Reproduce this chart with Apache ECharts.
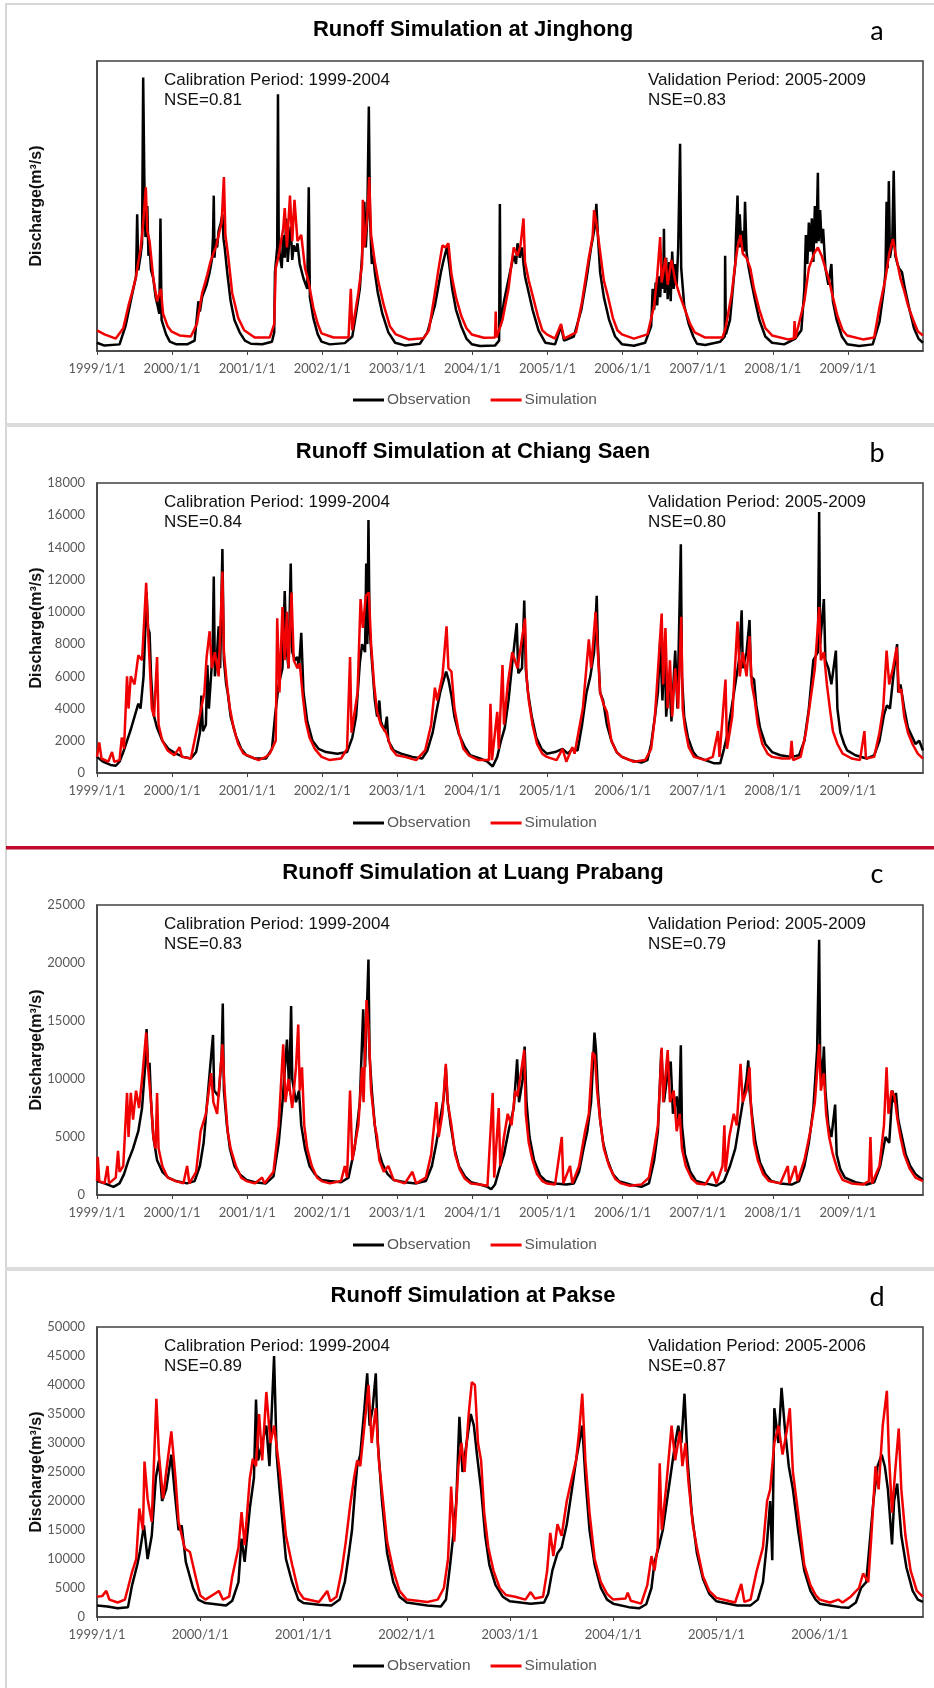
<!DOCTYPE html>
<html><head><meta charset="utf-8">
<script src="https://cdn.jsdelivr.net/npm/echarts/dist/echarts.min.js"></script>
<style>html,body{margin:0;padding:0;background:#fff}#c{width:934px;height:1688px}</style>
</head><body><div id="c"></div>
<script>
// ---------------- DATA ----------------
const stations = ['Jinghong', 'Chiang Saen', 'Luang Prabang', 'Pakse'];
const panelLetters = ['a', 'b', 'c', 'd'];
const calPeriods = ['1999-2004', '1999-2004', '1999-2004', '1999-2004'];
const valPeriods = ['2005-2009', '2005-2009', '2005-2009', '2005-2006'];
const nseCal = ['0.81', '0.84', '0.83', '0.89'];
const nseVal = ['0.83', '0.80', '0.79', '0.87'];
const xStart = [1999, 1999, 1999, 1999];
const xEnd = [2010, 2010, 2010, 2007];
const yMax = [14000, 18000, 25000, 50000];
const yStep = [2000, 2000, 5000, 5000];
const showYLabels = [false, true, true, true];
const seriesNames = ['Observation', 'Simulation'];

// x values are decimal years, y values discharge (m3/s)
const obsJinghong = [
[1999.0,400],[1999.1,260],[1999.3,320],[1999.38,1200],[1999.46,2600],[1999.52,3600],[1999.535,6600],[1999.55,3900],[1999.58,4600],[1999.6,5200],[1999.615,13200],[1999.63,8400],[1999.645,5500],[1999.66,6200],[1999.67,7000],[1999.685,4600],[1999.7,5000],[1999.72,3900],[1999.75,3500],[1999.78,2600],[1999.8,2300],[1999.83,1800],[1999.845,6400],[1999.86,1500],[1999.92,800],[1999.97,450],
[2000.05,330],[2000.2,320],[2000.3,500],[2000.35,2400],[2000.37,1900],[2000.4,2600],[2000.42,2800],[2000.46,3200],[2000.5,3800],[2000.53,4400],[2000.545,5500],[2000.555,7500],[2000.565,4500],[2000.58,5400],[2000.6,5000],[2000.62,5800],[2000.65,6200],[2000.67,6600],[2000.685,5400],[2000.7,5000],[2000.74,3600],[2000.78,2400],[2000.83,1500],[2000.9,900],[2000.97,500],
[2001.05,350],[2001.2,330],[2001.33,450],[2001.36,900],[2001.37,3800],[2001.4,5000],[2001.41,12400],[2001.42,5200],[2001.44,4500],[2001.46,4000],[2001.48,5600],[2001.5,4500],[2001.52,6400],[2001.54,4300],[2001.56,5300],[2001.58,6000],[2001.6,4400],[2001.62,5100],[2001.65,4800],[2001.67,5200],[2001.7,4200],[2001.75,3500],[2001.8,3000],[2001.82,7900],[2001.835,2600],[2001.88,1600],[2001.94,800],[2001.99,450],
[2002.1,320],[2002.3,380],[2002.4,700],[2002.45,1800],[2002.5,3000],[2002.53,4600],[2002.54,5600],[2002.56,7200],[2002.58,5000],[2002.6,6500],[2002.62,11800],[2002.635,6600],[2002.65,5000],[2002.66,4200],[2002.68,4600],[2002.7,3800],[2002.74,2800],[2002.8,1800],[2002.88,900],[2002.97,400],
[2003.1,270],[2003.3,350],[2003.4,900],[2003.5,2200],[2003.58,3800],[2003.61,4300],[2003.63,4600],[2003.66,5000],[2003.69,4200],[2003.73,3000],[2003.78,2000],[2003.85,1200],[2003.92,600],[2003.99,330],
[2004.1,240],[2004.3,260],[2004.355,500],[2004.365,7100],[2004.375,1200],[2004.42,2400],[2004.5,3800],[2004.53,4300],[2004.55,4600],[2004.58,4200],[2004.6,5200],[2004.63,4500],[2004.66,5000],[2004.68,4200],[2004.7,3600],[2004.75,2800],[2004.8,2000],[2004.88,1000],[2004.97,400],
[2005.1,320],[2005.18,1200],[2005.22,500],[2005.35,700],[2005.45,2000],[2005.52,3500],[2005.58,5000],[2005.63,6000],[2005.65,7100],[2005.67,5600],[2005.7,3800],[2005.75,2600],[2005.82,1500],[2005.9,700],[2005.99,330],
[2006.15,250],[2006.3,400],[2006.38,1200],[2006.4,3000],[2006.42,2000],[2006.44,3300],[2006.46,2200],[2006.48,3600],[2006.5,2600],[2006.52,4200],[2006.54,3000],[2006.55,5900],[2006.56,2800],[2006.58,4500],[2006.6,2500],[2006.62,4300],[2006.64,2400],[2006.66,4800],[2006.68,3000],[2006.7,4200],[2006.72,3200],[2006.74,5000],[2006.765,10000],[2006.78,4000],[2006.82,2200],[2006.88,1300],[2006.94,700],[2006.99,350],
[2007.1,290],[2007.3,450],[2007.36,700],[2007.365,4600],[2007.375,800],[2007.43,1500],[2007.48,3500],[2007.5,4200],[2007.51,5600],[2007.53,7500],[2007.545,5000],[2007.56,6600],[2007.58,5000],[2007.6,5800],[2007.615,4800],[2007.63,7200],[2007.65,4800],[2007.67,4200],[2007.7,3600],[2007.76,2500],[2007.82,1500],[2007.9,700],[2007.99,400],
[2008.15,320],[2008.3,600],[2008.38,1000],[2008.42,3000],[2008.44,5600],[2008.46,4200],[2008.48,6200],[2008.5,4800],[2008.52,6400],[2008.54,4300],[2008.56,7000],[2008.58,5200],[2008.6,8600],[2008.61,5300],[2008.63,6800],[2008.65,5200],[2008.67,5900],[2008.7,4000],[2008.74,3200],[2008.78,4200],[2008.8,2400],[2008.85,1500],[2008.92,700],[2008.99,330],
[2009.15,240],[2009.33,320],[2009.42,1400],[2009.48,3000],[2009.5,3800],[2009.515,7200],[2009.53,4000],[2009.545,8200],[2009.56,4500],[2009.59,5200],[2009.61,8700],[2009.63,4600],[2009.66,4200],[2009.68,4000],[2009.72,3800],[2009.76,3000],[2009.82,2000],[2009.88,1100],[2009.94,600],[2009.999,400]
];
const simJinghong = [
[1999.0,1000],[1999.1,800],[1999.25,600],[1999.35,1100],[1999.42,2200],[1999.48,3000],[1999.52,3600],[1999.55,4300],[1999.58,4900],[1999.6,5600],[1999.62,6400],[1999.65,7900],[1999.67,5800],[1999.7,5300],[1999.75,3500],[1999.8,2400],[1999.85,3000],[1999.88,1800],[1999.94,1200],[1999.99,950],
[2000.1,750],[2000.25,700],[2000.33,1300],[2000.4,2800],[2000.44,3300],[2000.47,3700],[2000.51,4300],[2000.55,4700],[2000.59,5100],[2000.62,5600],[2000.66,6200],[2000.69,8400],[2000.71,5600],[2000.75,4500],[2000.8,2800],[2000.88,1600],[2000.96,1000],
[2001.1,650],[2001.3,650],[2001.36,1300],[2001.38,4000],[2001.42,4600],[2001.45,5300],[2001.48,5900],[2001.5,6900],[2001.53,5000],[2001.57,7500],[2001.6,5300],[2001.63,7300],[2001.67,5300],[2001.72,5600],[2001.77,4000],[2001.82,3300],[2001.88,2100],[2001.94,1300],[2001.99,850],
[2002.15,650],[2002.35,650],[2002.38,3000],[2002.4,1000],[2002.48,2800],[2002.53,4200],[2002.54,7300],[2002.56,5000],[2002.6,6500],[2002.625,8400],[2002.65,5600],[2002.7,4300],[2002.75,3300],[2002.82,2200],[2002.9,1200],[2002.98,800],
[2003.15,560],[2003.35,620],[2003.42,1000],[2003.5,2800],[2003.55,4000],[2003.6,5100],[2003.64,5000],[2003.68,5200],[2003.72,3700],[2003.78,2600],[2003.85,1700],[2003.92,1100],[2003.99,800],
[2004.15,640],[2004.3,650],[2004.31,1900],[2004.32,650],[2004.4,1500],[2004.48,3000],[2004.52,4200],[2004.55,5000],[2004.6,4600],[2004.64,5100],[2004.68,6400],[2004.7,4300],[2004.75,3400],[2004.8,2700],[2004.87,1700],[2004.93,1000],[2004.99,800],
[2005.1,600],[2005.18,1300],[2005.22,600],[2005.38,900],[2005.46,2400],[2005.55,4500],[2005.6,5500],[2005.62,6800],[2005.65,6200],[2005.7,4800],[2005.75,3400],[2005.8,2700],[2005.87,1600],[2005.93,1000],[2005.99,800],
[2006.15,600],[2006.33,800],[2006.42,2200],[2006.46,3600],[2006.5,5500],[2006.52,3300],[2006.55,4000],[2006.57,4500],[2006.6,3200],[2006.65,4400],[2006.7,3400],[2006.76,2700],[2006.83,2000],[2006.9,1300],[2006.96,900],
[2007.1,650],[2007.33,650],[2007.37,1100],[2007.45,2700],[2007.5,4200],[2007.53,5000],[2007.57,5600],[2007.6,4700],[2007.65,4500],[2007.7,4000],[2007.75,3000],[2007.82,2000],[2007.9,1100],[2007.99,750],
[2008.2,560],[2008.28,600],[2008.29,1450],[2008.3,600],[2008.42,2400],[2008.48,4000],[2008.55,4700],[2008.6,5000],[2008.65,4600],[2008.7,4000],[2008.75,3400],[2008.8,2600],[2008.86,1700],[2008.93,1000],[2008.99,750],
[2009.2,560],[2009.35,650],[2009.42,2100],[2009.5,3500],[2009.55,4700],[2009.6,5400],[2009.65,4400],[2009.7,3500],[2009.75,2900],[2009.8,2200],[2009.87,1500],[2009.93,950],[2009.999,750]
];
const obsChiangSaen = [
[1999.0,1000],[1999.08,700],[1999.18,500],[1999.25,450],[1999.3,700],[1999.35,1300],[1999.4,2000],[1999.45,2700],[1999.5,3500],[1999.55,4300],[1999.58,4000],[1999.62,6000],[1999.64,8500],[1999.66,11200],[1999.68,9000],[1999.7,8700],[1999.72,6000],[1999.75,3700],[1999.8,2800],[1999.87,2000],[1999.95,1500],
[2000.05,1200],[2000.15,1000],[2000.25,900],[2000.32,1300],[2000.37,2500],[2000.39,4800],[2000.41,2600],[2000.45,3000],[2000.47,6700],[2000.49,4000],[2000.54,7500],[2000.555,12200],[2000.57,6000],[2000.6,7500],[2000.62,9100],[2000.64,6500],[2000.67,13900],[2000.69,7000],[2000.72,5500],[2000.74,5000],[2000.78,3500],[2000.85,2300],[2000.92,1500],[2000.99,1100],
[2001.1,900],[2001.25,900],[2001.33,1500],[2001.37,3500],[2001.42,5500],[2001.47,6500],[2001.5,11300],[2001.52,8000],[2001.55,6500],[2001.58,13000],[2001.6,7500],[2001.64,7000],[2001.67,7200],[2001.69,6500],[2001.72,8700],[2001.75,5000],[2001.8,3200],[2001.87,2000],[2001.95,1500],
[2002.05,1300],[2002.2,1200],[2002.33,1300],[2002.4,2200],[2002.45,3500],[2002.5,6800],[2002.53,8000],[2002.57,7500],[2002.585,13000],[2002.6,8000],[2002.615,15700],[2002.63,9000],[2002.66,7000],[2002.7,4500],[2002.73,3500],[2002.76,4500],[2002.78,3200],[2002.83,2600],[2002.86,3500],[2002.88,2000],[2002.95,1400],
[2003.05,1200],[2003.2,1000],[2003.33,900],[2003.4,1400],[2003.47,2500],[2003.52,3800],[2003.57,5000],[2003.6,5500],[2003.65,6300],[2003.68,5800],[2003.72,4800],[2003.76,3500],[2003.82,2400],[2003.9,1600],[2003.97,1100],
[2004.1,900],[2004.2,700],[2004.27,400],[2004.33,1000],[2004.38,2000],[2004.43,2800],[2004.48,4500],[2004.53,6800],[2004.59,9300],[2004.61,6200],[2004.66,6500],[2004.69,10700],[2004.71,6500],[2004.74,5000],[2004.79,3500],[2004.85,2200],[2004.92,1500],[2004.99,1200],
[2005.1,1300],[2005.2,1500],[2005.27,1200],[2005.33,1500],[2005.4,1400],[2005.46,3000],[2005.52,5000],[2005.57,6000],[2005.62,7500],[2005.655,11000],[2005.67,8000],[2005.7,5000],[2005.74,4500],[2005.79,3000],[2005.85,2000],[2005.92,1300],[2005.99,1000],
[2006.1,800],[2006.25,650],[2006.33,800],[2006.38,1800],[2006.43,3500],[2006.47,5000],[2006.5,8200],[2006.53,4500],[2006.56,8000],[2006.58,3500],[2006.62,6000],[2006.65,3200],[2006.7,7600],[2006.73,4000],[2006.775,14200],[2006.79,6000],[2006.82,3500],[2006.87,2200],[2006.94,1300],[2006.99,1000],
[2007.1,800],[2007.22,600],[2007.3,600],[2007.35,1500],[2007.4,2500],[2007.45,4000],[2007.5,5500],[2007.55,7000],[2007.585,10100],[2007.6,6500],[2007.65,7500],[2007.69,9500],[2007.71,6000],[2007.75,5800],[2007.78,4200],[2007.83,2800],[2007.9,1800],[2007.99,1300],
[2008.1,1100],[2008.25,1000],[2008.35,1100],[2008.42,2000],[2008.48,4000],[2008.54,7000],[2008.6,7500],[2008.617,16200],[2008.63,8000],[2008.68,10800],[2008.7,7000],[2008.74,6500],[2008.78,5500],[2008.84,7600],[2008.86,4000],[2008.9,2500],[2008.95,1800],[2008.99,1400],
[2009.1,1100],[2009.25,900],[2009.35,1100],[2009.42,2000],[2009.48,3600],[2009.52,4200],[2009.56,4000],[2009.6,5800],[2009.655,8000],[2009.67,5000],[2009.7,5500],[2009.75,4000],[2009.8,2800],[2009.86,2200],[2009.9,1800],[2009.95,2000],[2009.999,1400]
];
const simChiangSaen = [
[1999.0,1000],[1999.03,1900],[1999.06,900],[1999.15,700],[1999.2,1300],[1999.23,700],[1999.3,800],[1999.33,2200],[1999.36,1500],[1999.4,6000],[1999.42,4000],[1999.45,6000],[1999.5,5500],[1999.55,7300],[1999.6,7000],[1999.63,9600],[1999.655,11800],[1999.68,8800],[1999.71,6000],[1999.73,4000],[1999.76,3500],[1999.8,7200],[1999.82,3000],[1999.87,2000],[1999.94,1400],
[2000.03,1100],[2000.1,1600],[2000.13,1000],[2000.25,900],[2000.32,2500],[2000.37,3600],[2000.43,5000],[2000.46,7200],[2000.5,8800],[2000.53,6500],[2000.57,7500],[2000.62,6000],[2000.67,12500],[2000.69,7500],[2000.73,5500],[2000.77,4000],[2000.82,2800],[2000.88,1800],[2000.95,1200],
[2001.05,1000],[2001.15,800],[2001.25,1000],[2001.3,1200],[2001.38,2000],[2001.4,9600],[2001.43,5000],[2001.47,10300],[2001.5,7000],[2001.53,10000],[2001.55,6500],[2001.59,11200],[2001.62,7000],[2001.67,6500],[2001.7,6800],[2001.74,4800],[2001.78,3200],[2001.83,2200],[2001.9,1500],[2001.99,1000],
[2002.1,800],[2002.25,900],[2002.33,1500],[2002.37,7200],[2002.39,2500],[2002.47,5000],[2002.51,10800],[2002.54,9000],[2002.58,11000],[2002.62,11200],[2002.65,8000],[2002.69,5500],[2002.73,3800],[2002.78,3000],[2002.85,2500],[2002.92,1500],[2002.99,1100],
[2003.1,1000],[2003.25,800],[2003.37,1400],[2003.45,3000],[2003.5,5300],[2003.53,4500],[2003.6,6000],[2003.655,9100],[2003.68,6500],[2003.72,6300],[2003.76,4000],[2003.82,2500],[2003.88,1500],[2003.95,1100],
[2004.08,800],[2004.22,800],[2004.24,4300],[2004.26,800],[2004.33,3800],[2004.35,1500],[2004.4,6700],[2004.42,3000],[2004.47,5500],[2004.53,7500],[2004.6,6500],[2004.7,9600],[2004.72,6000],[2004.75,4500],[2004.8,3000],[2004.86,1800],[2004.93,1200],[2004.99,1000],
[2005.12,800],[2005.2,1500],[2005.25,700],[2005.33,1600],[2005.36,1200],[2005.47,4000],[2005.55,8300],[2005.58,6500],[2005.64,10000],[2005.67,7500],[2005.7,5000],[2005.75,4200],[2005.79,3800],[2005.85,2000],[2005.92,1300],[2005.99,1000],
[2006.15,700],[2006.3,800],[2006.38,1500],[2006.43,3500],[2006.52,9900],[2006.54,5500],[2006.57,9000],[2006.6,4000],[2006.63,7000],[2006.66,3500],[2006.7,6500],[2006.74,4000],[2006.78,9700],[2006.8,4000],[2006.83,2800],[2006.88,1600],[2006.95,1000],
[2007.1,800],[2007.2,1000],[2007.27,2600],[2007.29,1000],[2007.37,5800],[2007.39,1500],[2007.46,3500],[2007.53,9400],[2007.56,6000],[2007.6,7500],[2007.65,6000],[2007.69,8500],[2007.72,5500],[2007.76,4500],[2007.8,3000],[2007.86,1800],[2007.93,1200],[2007.99,1000],
[2008.12,900],[2008.23,900],[2008.25,2000],[2008.27,800],[2008.37,1000],[2008.44,2500],[2008.5,4500],[2008.56,6500],[2008.617,10300],[2008.64,7000],[2008.68,7500],[2008.72,5500],[2008.76,4000],[2008.8,2600],[2008.86,1800],[2008.93,1200],
[2009.05,900],[2009.16,800],[2009.22,2600],[2009.24,900],[2009.35,1000],[2009.42,2500],[2009.47,4000],[2009.515,7600],[2009.55,5500],[2009.6,6500],[2009.65,7800],[2009.68,5000],[2009.71,5200],[2009.75,3500],[2009.8,2500],[2009.86,1800],[2009.93,1200],[2009.999,900]
];
const obsLuangPrabang = [
[1999.0,1200],[1999.1,1000],[1999.22,700],[1999.3,1000],[1999.36,1800],[1999.42,3000],[1999.48,4000],[1999.55,5500],[1999.6,7500],[1999.64,11000],[1999.66,14300],[1999.68,11000],[1999.7,11400],[1999.72,8000],[1999.75,5000],[1999.8,3000],[1999.87,2000],[1999.95,1500],
[2000.05,1200],[2000.2,1000],[2000.3,1200],[2000.37,2500],[2000.42,4500],[2000.46,7500],[2000.5,10500],[2000.545,13800],[2000.56,9000],[2000.62,8500],[2000.66,12000],[2000.675,16500],[2000.69,9000],[2000.73,6000],[2000.77,4000],[2000.83,2500],[2000.9,1800],[2000.99,1300],
[2001.1,1100],[2001.25,1000],[2001.35,1600],[2001.42,4500],[2001.47,8000],[2001.53,13400],[2001.56,9000],[2001.585,16300],[2001.6,10000],[2001.65,8000],[2001.69,9000],[2001.72,6000],[2001.77,4000],[2001.83,2500],[2001.9,1800],[2001.99,1300],
[2002.1,1200],[2002.25,1100],[2002.35,1500],[2002.43,4000],[2002.5,8000],[2002.545,16000],[2002.57,11000],[2002.615,20300],[2002.63,12000],[2002.66,9000],[2002.7,6000],[2002.74,4000],[2002.8,2700],[2002.87,1800],[2002.95,1300],
[2003.1,1100],[2003.25,1000],[2003.38,1200],[2003.46,2500],[2003.52,4500],[2003.57,6500],[2003.62,8500],[2003.645,11000],[2003.67,8000],[2003.71,6000],[2003.76,4000],[2003.82,2500],[2003.9,1600],[2003.98,1100],
[2004.1,900],[2004.2,700],[2004.25,500],[2004.3,900],[2004.37,2500],[2004.42,3500],[2004.48,5500],[2004.55,7500],[2004.595,11700],[2004.62,8000],[2004.67,10000],[2004.695,12800],[2004.72,8000],[2004.76,5000],[2004.82,3000],[2004.9,1700],[2004.98,1200],
[2005.1,1000],[2005.25,900],[2005.35,1000],[2005.42,2000],[2005.48,4000],[2005.53,5500],[2005.58,8000],[2005.625,14000],[2005.645,12500],[2005.67,9000],[2005.7,6500],[2005.74,4500],[2005.8,3000],[2005.87,1800],[2005.95,1200],
[2006.1,900],[2006.25,700],[2006.35,1000],[2006.42,3000],[2006.47,5500],[2006.515,12500],[2006.55,8000],[2006.6,10500],[2006.64,11500],[2006.67,7000],[2006.72,8500],[2006.75,6000],[2006.775,12900],[2006.79,6000],[2006.83,3500],[2006.9,2000],[2006.98,1200],
[2007.1,1000],[2007.25,800],[2007.35,1200],[2007.43,2500],[2007.5,4000],[2007.55,6000],[2007.6,8000],[2007.65,10000],[2007.673,11600],[2007.69,9000],[2007.73,6500],[2007.77,4500],[2007.83,2800],[2007.9,1800],[2007.98,1200],
[2008.1,1000],[2008.25,900],[2008.35,1200],[2008.42,2500],[2008.48,4500],[2008.54,7500],[2008.59,12500],[2008.617,22000],[2008.63,12000],[2008.66,10000],[2008.68,12800],[2008.7,9000],[2008.74,6000],[2008.78,5000],[2008.83,7800],[2008.85,3500],[2008.9,2200],[2008.96,1500],
[2009.1,1100],[2009.25,900],[2009.35,1100],[2009.43,2500],[2009.5,5000],[2009.55,4500],[2009.594,9000],[2009.62,8000],[2009.64,8800],[2009.67,6500],[2009.72,5000],[2009.77,3500],[2009.83,2500],[2009.9,1800],[2009.999,1300]
];
const simLuangPrabang = [
[1999.0,1200],[1999.01,3300],[1999.03,1200],[1999.1,1000],[1999.14,2500],[1999.16,1000],[1999.25,1500],[1999.28,3800],[1999.3,2000],[1999.35,2500],[1999.4,8800],[1999.42,5000],[1999.45,8800],[1999.48,6500],[1999.52,9000],[1999.56,7500],[1999.6,10000],[1999.655,14000],[1999.68,11000],[1999.72,8000],[1999.75,5000],[1999.78,4000],[1999.8,8800],[1999.82,4000],[1999.87,2500],[1999.94,1500],
[2000.05,1200],[2000.15,1000],[2000.2,2500],[2000.23,1000],[2000.32,2000],[2000.38,5500],[2000.45,7000],[2000.52,10500],[2000.55,8000],[2000.6,7000],[2000.67,13000],[2000.7,9000],[2000.74,5500],[2000.78,4000],[2000.85,2500],[2000.92,1500],[2000.99,1200],
[2001.1,1000],[2001.2,1500],[2001.23,1000],[2001.35,2000],[2001.42,6000],[2001.48,13000],[2001.51,8000],[2001.55,10000],[2001.6,7500],[2001.65,11000],[2001.68,14700],[2001.7,9000],[2001.73,11000],[2001.76,6000],[2001.8,4000],[2001.86,2500],[2001.93,1500],[2001.99,1200],
[2002.1,1000],[2002.25,1200],[2002.3,2500],[2002.33,1500],[2002.37,9000],[2002.4,3000],[2002.48,6000],[2002.53,11000],[2002.55,8000],[2002.59,16800],[2002.62,14000],[2002.65,9000],[2002.7,6000],[2002.73,5000],[2002.76,3000],[2002.82,2000],[2002.88,2500],[2002.95,1300],
[2003.1,1000],[2003.2,2000],[2003.25,1000],[2003.38,1500],[2003.45,3500],[2003.52,8000],[2003.55,5000],[2003.6,7000],[2003.645,11300],[2003.67,8000],[2003.72,6000],[2003.77,3500],[2003.83,2200],[2003.9,1400],[2003.98,1000],
[2004.1,900],[2004.2,800],[2004.27,8800],[2004.29,1500],[2004.35,7500],[2004.37,2500],[2004.42,5000],[2004.47,7000],[2004.52,6000],[2004.57,9000],[2004.6,8500],[2004.69,12500],[2004.71,7000],[2004.75,4500],[2004.8,3000],[2004.86,1800],[2004.93,1200],[2004.99,1000],
[2005.1,900],[2005.19,5000],[2005.21,1000],[2005.3,2500],[2005.33,1000],[2005.42,2500],[2005.5,5500],[2005.55,7000],[2005.6,12300],[2005.63,12000],[2005.66,9000],[2005.7,6500],[2005.75,4000],[2005.82,2500],[2005.9,1400],[2005.98,1000],
[2006.1,800],[2006.25,900],[2006.35,1500],[2006.42,4000],[2006.47,6000],[2006.52,12700],[2006.54,8000],[2006.6,12500],[2006.63,8000],[2006.68,9000],[2006.72,5500],[2006.76,7000],[2006.79,4000],[2006.84,2500],[2006.92,1400],[2006.99,1000],
[2007.1,900],[2007.2,2000],[2007.25,1000],[2007.33,2500],[2007.355,6000],[2007.37,2000],[2007.42,5000],[2007.48,7000],[2007.52,6000],[2007.57,11300],[2007.6,8000],[2007.65,9000],[2007.69,11000],[2007.71,7500],[2007.75,4500],[2007.8,3000],[2007.87,1800],[2007.95,1200],
[2008.1,1000],[2008.2,2500],[2008.22,1000],[2008.3,2500],[2008.33,1200],[2008.42,3000],[2008.5,5500],[2008.56,8000],[2008.617,13000],[2008.64,9000],[2008.68,10500],[2008.71,7000],[2008.75,5000],[2008.8,3500],[2008.86,2200],[2008.93,1300],
[2009.05,1000],[2009.2,900],[2009.28,1200],[2009.3,5000],[2009.32,1000],[2009.42,2500],[2009.48,6000],[2009.515,11000],[2009.54,7000],[2009.58,9000],[2009.62,8500],[2009.66,6500],[2009.7,5000],[2009.75,3500],[2009.82,2300],[2009.9,1500],[2009.999,1200]
];
const obsPakse = [
[1999.0,2000],[1999.1,1800],[1999.2,1500],[1999.3,1700],[1999.34,5500],[1999.39,9000],[1999.415,11200],[1999.455,15800],[1999.49,10000],[1999.53,14000],[1999.57,24000],[1999.6,27000],[1999.63,20000],[1999.67,22000],[1999.72,28000],[1999.75,22000],[1999.79,15000],[1999.82,15800],[1999.86,9500],[1999.93,5000],[1999.98,3000],
[2000.05,2400],[2000.15,2200],[2000.25,2000],[2000.31,2800],[2000.37,6000],[2000.4,13500],[2000.43,9500],[2000.48,18700],[2000.52,24000],[2000.54,37500],[2000.56,27000],[2000.6,30000],[2000.64,33000],[2000.67,26000],[2000.715,45000],[2000.74,28000],[2000.77,21500],[2000.83,10000],[2000.89,6000],[2000.95,3000],
[2001.0,2400],[2001.15,2100],[2001.27,2000],[2001.35,3000],[2001.4,6000],[2001.44,11000],[2001.47,15000],[2001.5,22000],[2001.52,26000],[2001.55,28000],[2001.59,36000],[2001.617,42000],[2001.64,33000],[2001.67,36000],[2001.7,42000],[2001.72,30000],[2001.76,20000],[2001.81,11000],[2001.87,6000],[2001.93,3500],
[2002.0,2500],[2002.2,2000],[2002.33,1800],[2002.38,3000],[2002.42,9000],[2002.45,14000],[2002.48,20000],[2002.51,34500],[2002.54,25000],[2002.58,30000],[2002.62,35000],[2002.65,33000],[2002.68,28000],[2002.72,22000],[2002.76,14000],[2002.8,9000],[2002.86,5500],[2002.93,3500],
[2003.0,2700],[2003.2,2300],[2003.33,2500],[2003.37,4000],[2003.41,8000],[2003.46,11000],[2003.5,12000],[2003.55,16000],[2003.6,22000],[2003.64,27000],[2003.68,31000],[2003.7,33000],[2003.73,24000],[2003.77,15000],[2003.82,9000],[2003.88,5000],[2003.94,3000],
[2004.0,2300],[2004.15,1700],[2004.25,1500],[2004.32,2200],[2004.37,5000],[2004.4,9500],[2004.44,12000],[2004.48,15000],[2004.52,20000],[2004.56,25000],[2004.6,30000],[2004.63,33000],[2004.66,30000],[2004.69,38500],[2004.72,27000],[2004.76,18000],[2004.81,11000],[2004.87,6500],[2004.93,4000],
[2005.0,2700],[2005.2,2000],[2005.33,2000],[2005.4,3000],[2005.45,6000],[2005.49,13000],[2005.52,20000],[2005.54,9800],[2005.56,36000],[2005.6,30000],[2005.63,39500],[2005.66,33000],[2005.7,26000],[2005.74,22000],[2005.79,15000],[2005.85,8000],[2005.91,4500],[2005.96,3000],
[2006.0,2300],[2006.1,2000],[2006.2,1700],[2006.28,1600],[2006.35,2500],[2006.4,5000],[2006.45,6000],[2006.48,12000],[2006.52,20000],[2006.56,26000],[2006.6,28000],[2006.63,26000],[2006.66,22000],[2006.7,12500],[2006.72,20000],[2006.75,23000],[2006.79,14000],[2006.84,8500],[2006.9,4500],[2006.95,3000],[2006.999,2600]
];
const simPakse = [
[1999.0,3500],[1999.05,3600],[1999.09,4500],[1999.12,3000],[1999.2,2500],[1999.27,3000],[1999.3,5000],[1999.34,7800],[1999.38,10000],[1999.41,18700],[1999.445,15000],[1999.46,26800],[1999.49,20400],[1999.53,16400],[1999.575,37600],[1999.6,28000],[1999.64,20400],[1999.67,25000],[1999.72,32000],[1999.76,24000],[1999.79,16400],[1999.85,11800],[1999.9,11200],[1999.96,6600],
[2000.0,3700],[2000.05,3000],[2000.14,4000],[2000.18,4500],[2000.22,3000],[2000.28,3500],[2000.31,7000],[2000.37,12000],[2000.4,18100],[2000.43,12400],[2000.48,23900],[2000.51,27300],[2000.54,26000],[2000.57,35000],[2000.6,27000],[2000.64,38800],[2000.68,30000],[2000.715,33000],[2000.77,25000],[2000.83,14000],[2000.89,9000],[2000.95,4500],
[2001.0,3200],[2001.15,2600],[2001.23,4500],[2001.26,2700],[2001.32,3500],[2001.37,8000],[2001.41,13000],[2001.45,19000],[2001.49,24000],[2001.52,27000],[2001.55,26000],[2001.59,33000],[2001.63,40000],[2001.66,30000],[2001.7,36000],[2001.73,27000],[2001.77,20000],[2001.81,13000],[2001.87,8000],[2001.93,4500],
[2002.0,3000],[2002.2,2600],[2002.3,3000],[2002.36,5000],[2002.4,10000],[2002.43,22500],[2002.46,13000],[2002.5,26000],[2002.53,30000],[2002.56,25000],[2002.6,35000],[2002.63,40500],[2002.66,40000],[2002.69,30000],[2002.72,27000],[2002.75,18000],[2002.79,12000],[2002.84,8000],[2002.9,5000],[2002.96,3800],
[2003.05,3500],[2003.15,3000],[2003.2,4300],[2003.24,3200],[2003.32,3500],[2003.36,8000],[2003.39,14500],[2003.42,10500],[2003.46,16000],[2003.5,14000],[2003.55,20000],[2003.6,24000],[2003.64,27000],[2003.67,32000],[2003.7,38500],[2003.73,27000],[2003.77,18000],[2003.82,10000],[2003.88,6000],[2003.94,4000],
[2004.0,3000],[2004.12,3200],[2004.14,4200],[2004.17,2800],[2004.27,2300],[2004.33,5500],[2004.37,10500],[2004.4,8000],[2004.43,12000],[2004.45,26500],[2004.47,15000],[2004.51,22000],[2004.565,33000],[2004.6,27000],[2004.645,32000],[2004.67,26000],[2004.7,30000],[2004.73,23000],[2004.77,16000],[2004.81,12000],[2004.87,7000],[2004.93,4500],
[2005.0,3300],[2005.18,2500],[2005.24,5700],[2005.27,2600],[2005.33,3000],[2005.39,8000],[2005.45,12000],[2005.49,20000],[2005.52,22000],[2005.56,30000],[2005.6,33000],[2005.64,28000],[2005.68,32000],[2005.71,36000],[2005.74,25000],[2005.79,18000],[2005.85,9000],[2005.91,5500],[2005.96,3800],
[2006.0,3000],[2006.1,2500],[2006.18,3000],[2006.22,2500],[2006.3,3500],[2006.38,5000],[2006.42,7500],[2006.47,6000],[2006.5,14000],[2006.54,26000],[2006.57,22000],[2006.61,33000],[2006.65,39000],[2006.67,28000],[2006.7,18000],[2006.73,25000],[2006.765,32500],[2006.79,22000],[2006.83,14000],[2006.88,8000],[2006.94,4500],[2006.999,3500]
];

const obsData = [obsJinghong, obsChiangSaen, obsLuangPrabang, obsPakse];
const simData = [simJinghong, simChiangSaen, simLuangPrabang, simPakse];

// ---------------- LAYOUT ----------------
const plotLeft = 97, plotWidth = 826, plotHeight = 290;
const plotTop = [61, 483, 905, 1327];
const titleY = [30, 452, 873, 1296];
const legendY = [401, 824, 1246, 1667];
const LABEL_FONT = 'Lato, "Open Sans", sans-serif';
const TEXT_FONT = '"Liberation Sans", Arial, sans-serif';
const OBS_COLOR = '#000000', SIM_COLOR = '#f00000', AXIS_COLOR = '#404040';

const grids = [], xAxes = [], yAxes = [], series = [], legends = [], graphics = [];

// panel frames
graphics.push({type:'rect', shape:{x:6, y:4, width:940, height:1700}, style:{fill:'none', stroke:'#d6d6d6', lineWidth:2}, silent:true});
graphics.push({type:'rect', shape:{x:6, y:423, width:940, height:4}, style:{fill:'#dcdcdc'}, silent:true});
graphics.push({type:'rect', shape:{x:6, y:846, width:940, height:3.5}, style:{fill:'#c00a2e'}, silent:true});
graphics.push({type:'rect', shape:{x:6, y:1267, width:940, height:4}, style:{fill:'#dcdcdc'}, silent:true});

for (let i = 0; i < 4; i++) {
  grids.push({left: plotLeft, top: plotTop[i], width: plotWidth, height: plotHeight,
    show: true, borderColor: AXIS_COLOR, borderWidth: 1.5, backgroundColor: 'transparent'});
  xAxes.push({type: 'value', gridIndex: i, min: xStart[i], max: xEnd[i], interval: 1,
    axisLine: {show: true, lineStyle: {color: AXIS_COLOR, width: 1.5}},
    axisTick: {show: true, inside: false, length: 4, lineStyle: {color: AXIS_COLOR, width: 1}},
    axisLabel: {show: true, showMaxLabel: false, margin: 11, color: '#595959', fontFamily: LABEL_FONT, fontSize: 13,
      formatter: v => Math.round(v) + '/1/1'},
    splitLine: {show: false}});
  yAxes.push({type: 'value', gridIndex: i, min: 0, max: yMax[i], interval: yStep[i],
    axisLine: {show: true, lineStyle: {color: AXIS_COLOR, width: 1.5}},
    axisTick: {show: false},
    axisLabel: {show: showYLabels[i], margin: 12, color: '#595959', fontFamily: LABEL_FONT, fontSize: 13,
      formatter: v => String(Math.round(v))},
    splitLine: {show: false}});
  series.push({name: seriesNames[0], type: 'line', xAxisIndex: i, yAxisIndex: i, data: obsData[i],
    showSymbol: false, symbol: 'none', lineStyle: {color: OBS_COLOR, width: 2.5}, itemStyle: {color: OBS_COLOR}, z: 2, animation: false});
  series.push({name: seriesNames[1], type: 'line', xAxisIndex: i, yAxisIndex: i, data: simData[i],
    showSymbol: false, symbol: 'none', lineStyle: {color: SIM_COLOR, width: 2.5}, itemStyle: {color: SIM_COLOR}, z: 3, animation: false});
  legends.push({data: seriesNames, left: 353, top: legendY[i] - 9, icon: 'rect', itemWidth: 31, itemHeight: 3,
    itemGap: 20, padding: 0, selectedMode: false,
    textStyle: {color: '#595959', fontFamily: TEXT_FONT, fontSize: 15.5, padding: [0, 0, 0, -2]}});

  graphics.push({type:'text', x: 473, y: titleY[i], silent:true, style:{text: 'Runoff Simulation at ' + stations[i],
    fontFamily: TEXT_FONT, fontWeight: 'bold', fontSize: 22, fill: '#000', align: 'center', verticalAlign: 'middle'}});
  graphics.push({type:'text', x: 877, y: titleY[i] + 1, silent:true, style:{text: panelLetters[i],
    fontFamily: LABEL_FONT, fontSize: 27, fill: '#000', align: 'center', verticalAlign: 'middle'}});
  graphics.push({type:'text', x: 164, y: plotTop[i] + 10, silent:true, style:{text: 'Calibration Period: ' + calPeriods[i] + '\nNSE=' + nseCal[i],
    fontFamily: TEXT_FONT, fontSize: 17, lineHeight: 19.5, fill: '#111', align: 'left', verticalAlign: 'top'}});
  graphics.push({type:'text', x: 648, y: plotTop[i] + 10, silent:true, style:{text: 'Validation Period: ' + valPeriods[i] + '\nNSE=' + nseVal[i],
    fontFamily: TEXT_FONT, fontSize: 17, lineHeight: 19.5, fill: '#111', align: 'left', verticalAlign: 'top'}});
  graphics.push({type:'text', x: 37, y: plotTop[i] + plotHeight / 2, rotation: Math.PI / 2, silent:true,
    style:{text: 'Discharge(m\u00B3/s)', fontFamily: TEXT_FONT, fontWeight: 'bold', fontSize: 16, fill: '#111', align: 'center', verticalAlign: 'middle'}});
}

const chart = echarts.init(document.getElementById('c'), null, {renderer: 'canvas'});
chart.setOption({
  animation: false,
  backgroundColor: '#ffffff',
  grid: grids, xAxis: xAxes, yAxis: yAxes, series: series, legend: legends,
  graphic: {elements: graphics}
});
</script>
</body></html>
